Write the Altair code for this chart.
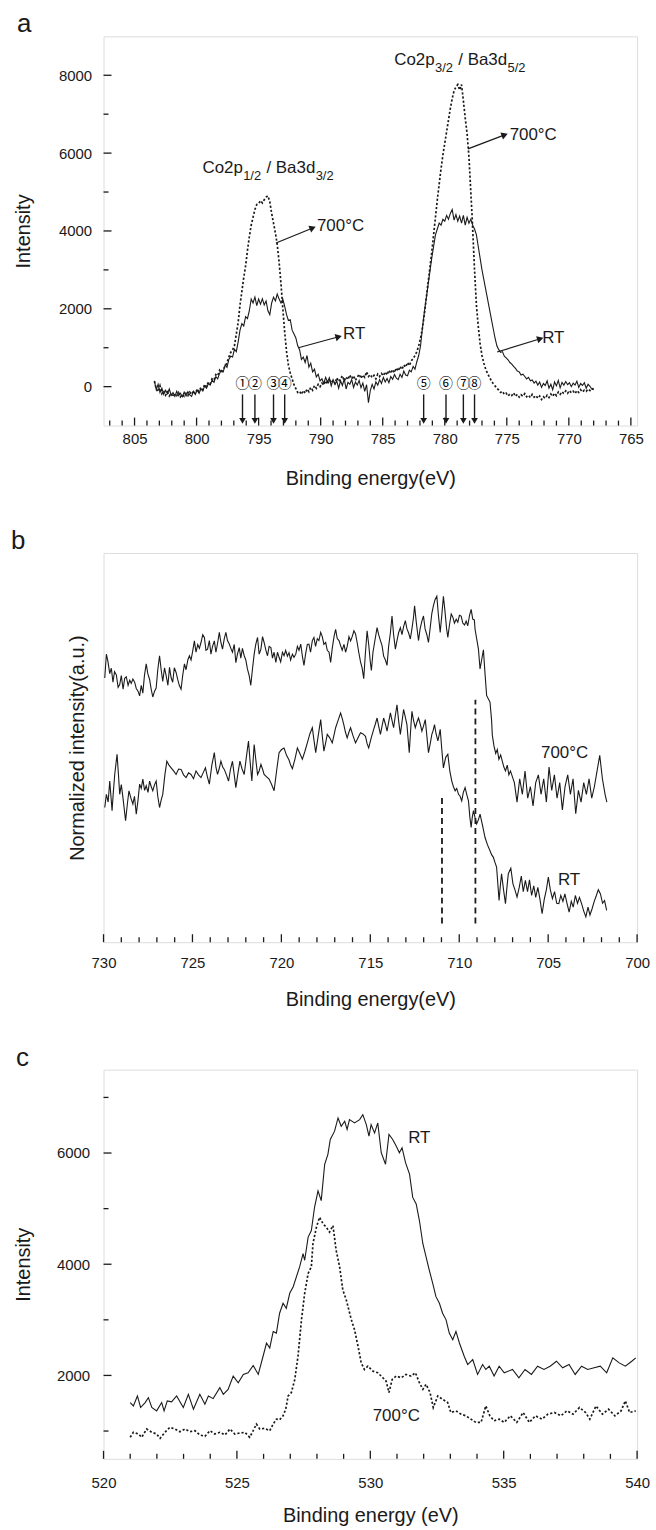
import math
import altair as alt
import pandas as pd

FONT = "Liberation Sans"
INK = "#1a1a1a"
W, H = 536, 391

# ---------------- panel a : Co2p / Ba3d ----------------
a_xdom = [807.5, 764.5]
a_ydom = [-1000, 9000]
a_x_major = [805, 800, 795, 790, 785, 780, 775, 770, 765]
a_x_minor = [v for v in range(765, 808) if v % 5]
a_y_major = [0, 2000, 4000, 6000, 8000]
a_y_minor = [1000, 3000, 5000, 7000]

a_rt = [(803.4,146),(803.25,-80),(803.1,60),(802.95,-150),(802.8,-40),(802.65,-200),(802.5,-90),(802.35,-180),
(802.2,-60),(802.05,-220),(801.9,-150),(801.75,-250),(801.6,-120),(801.45,-230),(801.3,-170),(801.15,-260),
(801.0,-140),(800.85,-240),(800.7,-130),(800.55,-210),(800.4,-250),(800.25,-120),(800.1,-200),(799.95,-90),
(799.8,-170),(799.65,-60),(799.5,-110),(799.35,20),(799.2,-40),(799.05,80),(798.9,40),(798.75,170),(798.6,110),
(798.45,260),(798.3,200),(798.15,340),(798.0,420),(797.85,380),(797.7,560),(797.55,500),(797.4,700),(797.25,780),
(797.1,760),(796.95,960),(796.8,900),(796.65,1150),(796.5,1450),(796.35,1620),(796.2,1560),(796.05,1800),
(795.9,1750),(795.75,1950),(795.6,2250),(795.45,2150),(795.3,2300),(795.15,2080),(795.0,2250),(794.85,2120),
(794.7,2260),(794.55,2100),(794.4,2200),(794.25,1950),(794.1,1850),(793.95,2150),(793.8,2300),(793.65,2200),
(793.5,2380),(793.35,2250),(793.2,2150),(793.05,2250),(792.9,2060),(792.75,1850),(792.6,1700),(792.45,1720),
(792.3,1450),(792.15,1350),(792.0,1250),(791.85,1050),(791.7,950),(791.55,700),(791.4,760),(791.25,620),
(791.1,800),(790.95,500),(790.8,600),(790.65,380),(790.5,450),(790.35,250),(790.2,320),(790.05,150),(789.9,200),
(789.75,80),(789.6,240),(789.45,120),(789.3,230),(789.15,20),(789.0,180),(788.85,60),(788.7,140),(788.55,-40),
(788.4,150),(788.25,30),(788.1,200),(787.95,-60),(787.8,110),(787.65,60),(787.5,180),(787.35,-20),(787.2,120),
(787.05,40),(786.9,160),(786.75,-30),(786.6,90),(786.45,-120),(786.3,50),(786.15,-410),(786.0,-100),(785.85,60),
(785.7,-60),(785.55,120),(785.4,40),(785.25,180),(785.1,80),(784.95,240),(784.8,120),(784.65,210),(784.5,100),
(784.35,260),(784.2,190),(784.05,310),(783.9,220),(783.75,180),(783.6,320),(783.45,240),(783.3,400),(783.15,300),
(783.0,280),(782.85,420),(782.7,380),(782.55,520),(782.4,450),(782.25,640),(782.1,800),(781.95,1050),(781.8,1500),
(781.65,1900),(781.5,2250),(781.35,2600),(781.2,2950),(781.05,3300),(780.9,3600),(780.75,3900),(780.6,4050),
(780.45,4200),(780.3,4150),(780.15,4300),(780.0,4250),(779.85,4400),(779.7,4300),(779.55,4450),(779.4,4550),
(779.25,4280),(779.1,4420),(778.95,4250),(778.8,4380),(778.65,4200),(778.5,4400),(778.35,4150),(778.2,4350),
(778.05,4200),(777.9,4300),(777.75,4150),(777.6,4050),(777.45,3900),(777.3,3600),(777.15,3300),(777.0,3000),
(776.85,2750),(776.7,2500),(776.55,2250),(776.4,2000),(776.25,1750),(776.1,1500),(775.95,1250),(775.8,1050),
(775.65,950),(775.5,880),(775.35,900),(775.2,780),(775.05,740),(774.9,690),(774.75,620),(774.6,580),(774.45,520),
(774.3,470),(774.15,400),(774.0,380),(773.85,300),(773.7,320),(773.55,260),(773.4,200),(773.25,240),(773.1,150),
(772.95,170),(772.8,90),(772.65,140),(772.5,40),(772.35,120),(772.2,-20),(772.05,80),(771.9,30),(771.75,150),
(771.6,-40),(771.45,60),(771.3,-80),(771.15,120),(771.0,20),(770.85,160),(770.7,-30),(770.55,110),(770.4,40),
(770.25,130),(770.1,50),(769.95,100),(769.8,0),(769.65,90),(769.5,40),(769.35,140),(769.2,-20),(769.05,80),
(768.9,30),(768.75,100),(768.6,-40),(768.45,60),(768.3,10),(768.15,-60),(768.0,-70)]

a_700 = [(803.4,140),(803.25,-60),(803.1,-130),(802.95,20),(802.8,-180),(802.65,-100),(802.5,-220),(802.35,-140),
(802.2,-240),(802.05,-170),(801.9,-260),(801.75,-190),(801.6,-230),(801.45,-150),(801.3,-260),(801.15,-200),
(801.0,-250),(800.85,-170),(800.7,-230),(800.55,-140),(800.4,-200),(800.25,-110),(800.1,-180),(799.95,-60),
(799.8,-130),(799.65,-20),(799.5,-80),(799.35,60),(799.2,0),(799.05,120),(798.9,80),(798.75,200),(798.6,170),
(798.45,310),(798.3,280),(798.15,420),(798.0,360),(797.85,450),(797.7,520),(797.55,620),(797.4,760),(797.25,880),
(797.1,940),(796.95,1050),(796.8,1350),(796.65,1650),(796.5,2100),(796.35,2450),(796.2,2800),(796.05,3100),
(795.9,3500),(795.75,3850),(795.6,4150),(795.45,4350),(795.3,4550),(795.15,4680),(795.0,4700),(794.85,4780),
(794.7,4720),(794.55,4800),(794.4,4870),(794.25,4900),(794.1,4750),(793.95,4450),(793.8,4200),(793.65,3950),
(793.5,3650),(793.35,3200),(793.2,2650),(793.05,2000),(792.9,1400),(792.75,900),(792.6,550),(792.45,350),
(792.3,200),(792.15,50),(792.0,-50),(791.85,-150),(791.7,-120),(791.55,-200),(791.4,-100),(791.25,-170),
(791.1,-60),(790.95,-130),(790.8,-20),(790.65,-90),(790.5,30),(790.35,-40),(790.2,60),(790.05,0),(789.9,90),
(789.75,40),(789.6,150),(789.45,60),(789.3,180),(789.15,100),(789.0,160),(788.85,80),(788.7,230),(788.55,130),
(788.4,200),(788.25,280),(788.1,150),(787.95,250),(787.8,180),(787.65,300),(787.5,200),(787.35,280),(787.2,160),
(787.05,240),(786.9,320),(786.75,210),(786.6,300),(786.45,240),(786.3,380),(786.15,260),(786.0,310),(785.85,230),
(785.7,290),(785.55,200),(785.4,320),(785.25,260),(785.1,340),(784.95,280),(784.8,380),(784.65,300),(784.5,420),
(784.35,340),(784.2,440),(784.05,360),(783.9,480),(783.75,400),(783.6,520),(783.45,440),(783.3,560),(783.15,500),
(783.0,620),(782.85,540),(782.7,660),(782.55,720),(782.4,800),(782.25,900),(782.1,1050),(781.95,1250),(781.8,1500),
(781.65,1850),(781.5,2250),(781.35,2650),(781.2,3050),(781.05,3450),(780.9,3900),(780.75,4350),(780.6,4800),
(780.45,5200),(780.3,5600),(780.15,5950),(780.0,6250),(779.85,6550),(779.7,6850),(779.55,7150),(779.4,7400),
(779.25,7600),(779.1,7700),(778.95,7760),(778.8,7620),(778.65,7760),(778.5,7350),(778.35,6900),(778.2,6500),
(778.05,5900),(777.9,5000),(777.8,4400),(777.7,3700),(777.6,3000),(777.45,2100),(777.3,1550),(777.15,1100),
(777.0,800),(776.85,600),(776.7,450),(776.55,330),(776.4,250),(776.25,150),(776.1,80),(775.95,20),(775.8,-40),
(775.65,-90),(775.5,-150),(775.35,-120),(775.2,-200),(775.05,-170),(774.9,-240),(774.75,-190),(774.6,-230),
(774.45,-160),(774.3,-250),(774.15,-200),(774.0,-270),(773.85,-210),(773.7,-250),(773.55,-180),(773.4,-260),
(773.25,-220),(773.1,-280),(772.95,-200),(772.8,-270),(772.65,-230),(772.5,-300),(772.35,-240),(772.2,-330),
(772.05,-260),(771.9,-300),(771.75,-220),(771.6,-280),(771.45,-190),(771.3,-250),(771.15,-170),(771.0,-230),
(770.85,-140),(770.7,-200),(770.55,-130),(770.4,-180),(770.25,-110),(770.1,-170),(769.95,-100),(769.8,-160),
(769.65,-120),(769.5,-180),(769.35,-100),(769.2,-150),(769.05,-80),(768.9,-140),(768.75,-90),(768.6,-120),
(768.45,-60),(768.3,-100),(768.15,-50),(768.0,-70)]

# peak labels with subscripts: (start eV, baseline intensity, pieces[(text, is_subscript)])
a_formulas = [
    (799.53, 5487, [("Co2p", False), ("1/2", True), (" ", False), ("/ Ba3d", False), ("3/2", True)]),
    (784.07, 8256, [("Co2p", False), ("3/2", True), (" ", False), ("/ Ba3d", False), ("5/2", True)]),
]
a_text = [("700°C", 790.3, 4000, 17), ("700°C", 774.77, 6341, 17), ("RT", 788.2, 1213, 17), ("RT", 772.15, 1128, 17)]
# label arrows: (eV start, int start, eV end, int end)
a_arrows = [(793.6, 3692, 790.64, 4077), (778.13, 6110, 775.17, 6469),
            (791.8, 1000, 788.55, 1282), (775.78, 889, 772.3, 1231)]
a_marks = ["①", "②", "③", "④", "⑤", "⑥", "⑦", "⑧"]
a_mark_ev = [796.3, 795.3, 793.8, 792.9, 781.7, 779.9, 778.5, 777.6]
a_mark_y = 60
a_mark_arrow = (-200, -880)

# ---------------- panel b ----------------
b_xdom = [730, 700]
b_ydom = [0, 100]
b_x_major = [730, 725, 720, 715, 710, 705, 700]
b_x_minor = [v for v in range(700, 731) if v % 5]

b_700 = [(729.93,67.9),(729.84,74.0),(729.75,72.1),(729.65,69.0),(729.56,70.4),(729.47,66.8),(729.38,69.5),(729.28,68.7),
(729.18,65.5),(729.09,66.2),(729.0,68.5),(728.9,65.0),(728.81,67.8),(728.72,68.2),(728.62,66.0),(728.53,67.3),
(728.44,66.5),(728.35,67.6),(728.25,66.8),(728.16,65.2),(728.06,64.5),(727.97,63.3),(727.88,66.0),(727.79,64.0),
(727.7,68.5),(727.6,71.5),(727.51,69.0),(727.41,67.5),(727.32,65.0),(727.23,63.0),(727.13,64.5),(727.04,65.3),
(726.95,70.0),(726.85,73.6),(726.76,70.0),(726.67,67.0),(726.57,70.5),(726.48,68.5),(726.38,66.0),(726.29,70.6),
(726.2,68.0),(726.11,66.8),(726.02,70.5),(725.92,69.3),(725.83,67.5),(725.74,66.0),(725.64,65.0),(725.55,68.5),
(725.45,71.5),(725.36,70.0),(725.26,72.5),(725.17,73.6),(725.08,72.5),(724.98,75.0),(724.89,77.4),(724.8,74.5),
(724.7,76.5),(724.61,75.5),(724.52,77.0),(724.42,79.0),(724.33,78.3),(724.24,75.0),(724.15,75.3),(724.05,77.5),
(723.96,74.0),(723.87,76.0),(723.77,77.4),(723.68,74.5),(723.58,77.0),(723.49,79.6),(723.4,77.0),(723.31,75.3),
(723.21,78.0),(723.12,79.6),(723.03,77.5),(722.93,76.6),(722.84,75.5),(722.75,74.5),(722.65,76.5),(722.56,71.8),
(722.47,74.0),(722.37,75.7),(722.28,73.0),(722.19,75.5),(722.09,73.6),(722.0,72.5),(721.91,70.2),(721.81,68.5),
(721.72,66.0),(721.63,70.0),(721.53,74.0),(721.44,76.5),(721.34,78.3),(721.25,74.0),(721.15,75.3),(721.06,78.5),
(720.97,77.0),(720.87,75.0),(720.78,73.6),(720.69,76.0),(720.59,75.7),(720.5,73.0),(720.41,74.5),(720.31,71.9),
(720.22,74.5),(720.13,73.2),(720.04,72.0),(719.94,74.5),(719.85,73.6),(719.76,75.0),(719.66,73.5),(719.57,74.4),
(719.48,72.5),(719.38,74.0),(719.29,73.2),(719.19,74.0),(719.1,76.0),(719.01,75.0),(718.91,76.6),(718.82,73.5),
(718.73,71.1),(718.64,74.0),(718.54,76.5),(718.45,76.6),(718.36,74.5),(718.26,77.5),(718.17,78.3),(718.08,76.0),
(717.98,78.0),(717.89,77.5),(717.79,79.6),(717.7,78.5),(717.61,76.5),(717.51,77.0),(717.42,75.0),(717.32,74.5),
(717.23,71.9),(717.14,75.5),(717.04,78.5),(716.95,80.4),(716.86,78.0),(716.76,77.5),(716.67,76.2),(716.58,75.0),
(716.48,76.5),(716.39,74.5),(716.3,76.0),(716.2,78.5),(716.11,77.4),(716.02,78.5),(715.92,80.0),(715.83,79.2),
(715.74,77.0),(715.65,74.5),(715.55,72.0),(715.46,70.5),(715.37,67.7),(715.28,74.0),(715.18,80.0),(715.09,76.5),
(715.0,72.0),(714.94,69.8),(714.85,74.5),(714.76,77.0),(714.62,80.8),(714.53,79.0),(714.43,77.5),(714.34,76.2),
(714.25,73.5),(714.15,72.5),(714.06,71.1),(713.97,76.0),(713.87,79.5),(713.78,83.8),(713.69,79.0),(713.59,75.3),
(713.5,77.5),(713.41,79.5),(713.31,80.8),(713.22,79.0),(713.13,81.0),(713.03,82.6),(712.94,80.5),(712.85,79.5),
(712.75,77.9),(712.66,80.5),(712.57,83.5),(712.51,86.4),(712.41,82.0),(712.29,77.5),(712.2,80.5),(712.1,82.5),
(712.01,83.8),(711.92,80.5),(711.82,79.0),(711.73,77.0),(711.64,80.5),(711.54,84.5),(711.45,86.5),(711.36,88.0),
(711.26,88.9),(711.17,84.0),(711.07,79.6),(710.98,84.0),(710.89,88.9),(710.8,85.0),(710.71,80.5),(710.64,78.3),
(710.55,81.5),(710.45,84.3),(710.36,83.5),(710.27,82.0),(710.17,83.0),(710.08,82.2),(709.99,84.0),(709.89,83.8),
(709.8,82.0),(709.7,81.5),(709.61,82.5),(709.52,81.3),(709.42,84.0),(709.33,85.5),(709.24,83.0),(709.15,82.8),
(709.11,80.4),(709.02,78.0),(708.92,75.3),(708.83,70.2),(708.74,72.5),(708.64,75.1),(708.55,69.0),(708.46,63.4),
(708.36,62.5),(708.27,61.7),(708.18,57.0),(708.14,53.2),(708.05,50.5),(707.95,48.5),(707.86,49.5),(707.77,47.0),
(707.67,48.1),(707.58,46.5),(707.49,45.0),(707.4,44.0),(707.3,45.5),(707.21,43.0),(707.12,44.0),(706.9,41),
(706.75,36),(706.6,42),(706.45,38),(706.3,44),(706.15,37),(706.0,40),(705.85,35),(705.7,41),(705.55,43),(705.4,38),
(705.25,42),(705.1,36),(704.95,45),(704.8,39),(704.65,43),(704.5,37),(704.35,41),(704.2,34),(704.05,40),(703.9,43),
(703.75,38),(703.6,42),(703.45,33),(703.3,39),(703.15,36),(703.0,41),(702.85,38),(702.7,42),(702.55,37),(702.4,40),
(702.25,44),(702.1,48),(701.95,42),(701.8,38),(701.7,36)]

b_rt = [(729.93,34.6),(729.84,38.0),(729.74,36.0),(729.65,41.4),(729.52,33.8),(729.45,38.5),(729.37,43.1),(729.24,48.3),
(729.16,43.0),(729.09,38.0),(729.0,40.5),(728.91,37.2),(728.83,34.0),(728.76,31.2),(728.66,35.5),(728.57,38.9),
(728.46,37.0),(728.35,35.5),(728.26,37.5),(728.16,32.9),(728.06,36.5),(727.97,40.6),(727.88,39.5),(727.79,41.9),
(727.69,39.0),(727.6,40.2),(727.5,38.5),(727.41,41.4),(727.32,40.0),(727.23,38.9),(727.13,40.5),(727.04,41.4),
(726.95,37.5),(726.85,34.6),(726.76,36.5),(726.67,38.0),(726.55,43.0),(726.44,46.5),(726.32,45.5),(726.2,44.8),
(726.06,44.0),(725.92,43.1),(725.78,44.5),(725.64,44.4),(725.5,43.0),(725.36,42.3),(725.22,43.5),(725.08,43.1),
(724.94,42.0),(724.8,44.0),(724.66,43.0),(724.52,42.3),(724.4,43.5),(724.27,44.8),(724.16,42.5),(724.05,40.6),
(723.91,45.5),(723.77,48.7),(723.68,45.0),(723.59,43.1),(723.5,44.5),(723.4,46.5),(723.3,45.0),(723.21,44.4),
(723.09,43.0),(722.97,41.4),(722.86,44.5),(722.75,46.5),(722.65,43.0),(722.56,39.7),(722.44,43.5),(722.33,46.5),
(722.21,44.5),(722.09,43.1),(721.97,47.5),(721.85,51.7),(721.76,46.5),(721.66,41.4),(721.6,46.0),(721.53,50.8),
(721.44,47.0),(721.34,43.1),(721.25,44.0),(721.15,45.7),(721.06,44.5),(720.97,43.1),(720.83,42.5),(720.69,41.9),
(720.55,40.5),(720.41,38.9),(720.27,44.0),(720.13,48.7),(719.99,49.5),(719.85,49.9),(719.71,48.0),(719.57,46.8),
(719.48,45.5),(719.38,44.6),(719.24,47.0),(719.1,49.9),(718.96,48.5),(718.82,47.0),(718.68,49.0),(718.54,51.2),
(718.4,53.5),(718.26,55.1),(718.17,52.0),(718.07,48.7),(717.93,53.0),(717.79,57.2),(717.7,53.0),(717.61,49.1),
(717.52,51.0),(717.42,53.4),(717.28,52.5),(717.14,51.2),(717.05,53.0),(716.95,55.1),(716.81,57.0),(716.67,58.9),
(716.58,57.5),(716.49,55.9),(716.4,54.0),(716.3,52.5),(716.2,54.0),(716.11,55.1),(715.97,53.0),(715.83,51.2),
(715.69,52.5),(715.55,53.8),(715.41,53.5),(715.27,52.9),(715.18,51.0),(715.09,49.9),(714.95,52.5),(714.81,54.7),
(714.72,56.0),(714.62,57.6),(714.53,55.5),(714.43,53.4),(714.34,55.5),(714.25,57.6),(714.15,56.0),(714.06,54.2),
(713.97,56.5),(713.87,58.9),(713.78,57.0),(713.69,55.1),(713.6,58.0),(713.5,61.0),(713.41,57.0),(713.31,53.4),
(713.22,56.5),(713.13,59.8),(713.04,58.0),(712.94,55.9),(712.87,52.0),(712.81,48.7),(712.74,54.0),(712.66,59.3),
(712.57,57.0),(712.47,55.1),(712.38,56.5),(712.29,57.6),(712.19,56.0),(712.1,54.2),(712.01,55.5),(711.91,57.2),
(711.82,53.0),(711.73,48.7),(711.63,51.0),(711.54,53.4),(711.46,54.5),(711.39,55.9),(711.3,53.5),(711.2,51.7),
(711.14,53.0),(711.07,54.7),(710.98,49.5),(710.89,44.8),(710.76,47.5),(710.64,48.3),(710.53,44.0),(710.42,41.4),
(710.33,40.0),(710.23,38.9),(710.14,39.5),(710.04,38.0),(709.95,37.5),(709.86,36.3),(709.77,38.5),(709.67,39.7),
(709.58,38.0),(709.48,36.3),(709.4,32.0),(709.33,29.5),(709.27,32.0),(709.2,33.8),(709.11,32.0),(709.02,30.4),
(708.92,31.5),(708.83,32.9),(708.69,30.0),(708.55,26.9),(708.41,25.0),(708.27,23.5),(708.18,22.5),(708.08,21.8),
(707.99,20.5),(707.9,19.3),(707.83,15.0),(707.76,10.7),(707.69,14.5),(707.62,17.6),(707.51,13.5),(707.4,9.9),
(707.32,14.0),(707.24,17.6),(707.1,19.0),(706.98,15.0),(706.87,13.5),(706.75,11.6),(706.63,14.0),(706.51,17.0),
(706.4,13.0),(706.28,15.9),(706.16,13.0),(706.05,16.0),(705.93,12.0),(705.81,14.5),(705.7,11.5),(705.58,14.1),
(705.46,11.0),(705.34,7.3),(705.22,11.0),(705.1,13.5),(704.99,16.7),(704.88,13.5),(704.76,11.2),(704.64,13.0),
(704.52,10.0),(704.4,9.9),(704.29,12.0),(704.17,10.5),(704.06,12.4),(703.94,10.0),(703.82,7.7),(703.7,10.5),
(703.59,9.0),(703.47,12.0),(703.35,10.0),(703.24,11.5),(703.12,9.9),(703.0,8.0),(702.88,6.5),(702.76,9.0),
(702.65,7.0),(702.53,8.6),(702.41,10.5),(702.29,12.0),(702.18,13.5),(702.06,12.4),(701.94,10.0),(701.83,10.7),
(701.71,8.2)]

b_text = [("700°C", 705.4, 47.4, 17), ("RT", 704.45, 14.6, 17)]
b_guides = [(710.97, 4.8, 37.2), (709.09, 4.8, 62.3)]

# ---------------- panel c : O1s ----------------
c_xdom = [520, 540]
c_ydom = [500, 7500]
c_x_major = [520, 525, 530, 535, 540]
c_x_minor = [v for v in range(520, 541) if v % 5]
c_y_major = [2000, 4000, 6000]
c_y_minor = [1000, 3000, 5000, 7000]

c_rt = [(521.0,1512),(521.12,1452),(521.27,1631),(521.39,1423),(521.56,1512),(521.68,1601),(521.81,1423),(521.99,1363),
(522.18,1512),(522.27,1363),(522.39,1542),(522.55,1524),(522.74,1631),(522.99,1423),(523.18,1661),(523.37,1393),
(523.61,1661),(523.8,1482),(523.93,1631),(524.11,1583),(524.36,1780),(524.49,1661),(524.67,1750),(524.86,1988),
(525.05,1869),(525.24,2018),(525.42,2048),(525.61,2179),(525.8,2018),(525.98,2345),(526.11,2583),(526.23,2494),
(526.36,2791),(526.48,2762),(526.6,3119),(526.73,3298),(526.85,3208),(526.98,3477),(527.11,3595),(527.35,3952),
(527.48,4190),(527.54,4071),(527.67,4488),(527.79,4607),(527.91,5024),(528.04,5321),(528.16,5143),(528.29,5798),
(528.41,5976),(528.5,6244),(528.66,6393),(528.79,6631),(528.91,6482),(529.04,6571),(529.13,6423),(529.22,6601),
(529.41,6541),(529.6,6601),(529.72,6690),(529.85,6512),(529.95,6304),(530.03,6512),(530.16,6363),(530.28,6541),
(530.41,6006),(530.57,5798),(530.7,6334),(530.84,6244),(530.97,6125),(531.09,6006),(531.19,6095),(531.32,5827),
(531.47,5620),(531.59,5202),(531.72,5084),(531.84,4786),(531.97,4369),(532.09,4131),(532.21,3893),(532.34,3655),
(532.46,3417),(532.59,3298),(532.71,3119),(532.84,3000),(532.96,2762),(533.09,2643),(533.21,2791),(533.34,2583),
(533.52,2345),(533.65,2196),(533.84,2286),(534.02,2018),(534.21,2196),(534.33,2107),(534.46,2166),(534.64,1988),
(534.83,2166),(535.02,2048),(535.33,2107),(535.57,1958),(535.8,2107),(536.04,2018),(536.27,2166),(536.51,2107),
(536.74,2166),(536.98,2256),(537.21,2137),(537.45,2196),(537.68,2018),(537.92,2166),(538.15,2107),(538.39,2137),
(538.62,2166),(538.86,2048),(539.09,2316),(539.33,2226),(539.56,2166),(539.8,2256),(539.95,2316)]

c_700 = [(521.0,887),(521.12,977),(521.31,947),(521.43,887),(521.62,1036),(521.81,977),(521.99,947),(522.12,869),
(522.3,977),(522.49,1066),(522.68,1036),(522.86,988),(523.05,1036),(523.24,988),(523.43,1006),(523.61,929),
(523.8,905),(523.99,1006),(524.17,947),(524.36,977),(524.55,929),(524.74,1036),(524.92,947),(525.11,964),
(525.3,977),(525.48,887),(525.61,1006),(525.73,1125),(525.86,1036),(526.04,1048),(526.23,1006),(526.36,1125),
(526.48,1214),(526.6,1202),(526.73,1274),(526.83,1393),(526.92,1631),(527.04,1691),(527.17,1929),(527.29,2345),
(527.42,3000),(527.54,3477),(527.67,3834),(527.79,3952),(527.85,4369),(527.98,4667),(528.1,4845),(528.23,4726),
(528.35,4667),(528.47,4577),(528.6,4696),(528.72,4250),(528.85,3952),(528.97,3536),(529.1,3357),(529.29,3000),
(529.41,2821),(529.54,2524),(529.66,2226),(529.78,2107),(529.91,2166),(530.1,2077),(530.28,2048),(530.47,1958),
(530.59,1899),(530.7,1691),(530.82,1929),(530.97,1988),(531.16,1958),(531.34,2018),(531.53,1988),(531.69,2048),
(531.84,1869),(531.97,1750),(532.09,1839),(532.24,1691),(532.36,1423),(532.53,1631),(532.71,1571),(532.9,1512),
(533.02,1333),(533.21,1363),(533.4,1304),(533.58,1274),(533.77,1214),(533.96,1155),(534.15,1155),(534.33,1452),
(534.48,1274),(534.64,1185),(534.83,1214),(535.02,1155),(535.25,1274),(535.49,1155),(535.73,1333),(535.96,1155),
(536.19,1274),(536.43,1214),(536.66,1304),(536.9,1333),(537.14,1274),(537.37,1363),(537.6,1304),(537.84,1423),
(538.07,1333),(538.23,1214),(538.46,1452),(538.7,1304),(538.93,1393),(539.17,1274),(539.4,1363),(539.56,1542),
(539.72,1333),(539.95,1363)]

c_text = [("RT", 531.42, 6184, 17), ("700°C", 530.09, 1184, 17)]

panel_letters = [("a", -87), ("b", -93), ("c", -88)]

# Arial / Liberation Sans advance widths (em) for laying out the subscript labels
ADV = {"C": .722, "o": .556, "2": .556, "p": .556, "1": .556, "/": .278, "3": .556, "5": .556,
       " ": .278, "B": .667, "a": .556, "d": .556}
MAIN_FS, SUB_FS, SUB_DROP = 17, 13, 7


# ---------------- helpers ----------------
def sc(dom):
    return alt.Scale(domain=dom, nice=False, zero=False)


def xaxis(values, title, lpad, tpad):
    return alt.Axis(values=values, title=title, format="d", ticks=False, tickSize=0, domain=False, grid=False,
                    labelFont=FONT, labelFontSize=15, labelColor=INK, labelPadding=lpad, labelFlush=False,
                    titleFont=FONT, titleFontSize=20, titleFontWeight="normal", titleColor=INK, titlePadding=tpad)


def yaxis(values, title, lpad, tpad, labels=True):
    return alt.Axis(values=values, title=title, format="d", ticks=False, tickSize=0, domain=False, grid=False,
                    labels=labels, labelFont=FONT, labelFontSize=15, labelColor=INK, labelPadding=lpad,
                    titleFont=FONT, titleFontSize=20, titleFontWeight="normal", titleColor=INK, titlePadding=tpad)


class Panel:
    def __init__(self, xdom, ydom, xax, yax):
        self.xs, self.ys = sc(xdom), sc(ydom)
        self.xax, self.yax = xax, yax

    def X(self, f):
        return alt.X(f, scale=self.xs, axis=self.xax)

    def Y(self, f):
        return alt.Y(f, scale=self.ys, axis=self.yax)

    def curve(self, pts, dotted=False):
        df = pd.DataFrame(pts, columns=["x", "y"])
        if dotted:
            m = alt.Chart(df).mark_line(color=INK, strokeWidth=1.7, strokeDash=[2.2, 2.0])
        else:
            m = alt.Chart(df).mark_line(color=INK, strokeWidth=1.1)
        return m.encode(x=self.X("x:Q"), y=self.Y("y:Q"))

    def ticks(self, xmaj, xmin, ymaj, ymin):
        layers = []
        for vals, ln in ((xmaj, 8), (xmin, 5)):
            if vals:
                d = pd.DataFrame({"x": vals})
                layers.append(alt.Chart(d).mark_rule(color=INK, strokeWidth=1.3).encode(
                    x=self.X("x:Q"), y=alt.value(H), y2=alt.value(H - ln)))
        for vals, ln in ((ymaj, 8), (ymin, 5)):
            if vals:
                d = pd.DataFrame({"y": vals})
                layers.append(alt.Chart(d).mark_rule(color=INK, strokeWidth=1.3).encode(
                    y=self.Y("y:Q"), x=alt.value(0), x2=alt.value(ln)))
        return layers

    def texts(self, items):
        d = pd.DataFrame(items, columns=["t", "x", "y", "fs"])
        return alt.Chart(d).mark_text(align="left", baseline="alphabetic", font=FONT, color=INK).encode(
            x=self.X("x:Q"), y=self.Y("y:Q"), text="t:N", size=alt.Size("fs:Q", scale=None, legend=None))


def letter(i):
    t, dx = panel_letters[i]
    d = pd.DataFrame({"t": [t]})
    return alt.Chart(d).mark_text(align="left", baseline="alphabetic", font=FONT, fontSize=26, color=INK).encode(
        x=alt.value(dx), y=alt.value(-4), text="t:N")


# ---------------- panel a ----------------
A = Panel(a_xdom, a_ydom, xaxis(a_x_major, "Binding energy(eV)", 6, 22), yaxis(a_y_major, "Intensity", 12, 25))
kx = W / (a_xdom[0] - a_xdom[1])      # px per eV (axis reversed)
ky = H / (a_ydom[1] - a_ydom[0])      # px per count

# lay the subscript labels out piece by piece
formula_items = []
for x0, y0, pieces in a_formulas:
    off = 0.0
    for txt, sub in pieces:
        fs = SUB_FS if sub else MAIN_FS
        if txt.strip():
            formula_items.append((txt, x0 - off / kx, y0 - (SUB_DROP / ky if sub else 0), fs))
        off += sum(ADV[ch] for ch in txt) * fs + 0.3

arr = []
for x1, y1, x2, y2 in a_arrows:
    ang = math.degrees(math.atan2(-(y2 - y1) * ky, (x1 - x2) * kx)) % 360
    arr.append({"x": x1, "y": y1, "x2": x2, "y2": y2, "ang": ang})
arr_df = pd.DataFrame(arr)
arrow_lines = alt.Chart(arr_df).mark_rule(color=INK, strokeWidth=1.2).encode(
    x=A.X("x:Q"), y=A.Y("y:Q"), x2="x2:Q", y2="y2:Q")
arrow_heads = alt.Chart(arr_df).mark_point(shape="triangle-right", filled=True, size=55, color=INK, opacity=1).encode(
    x=A.X("x2:Q"), y=A.Y("y2:Q"), angle=alt.Angle("ang:Q", scale=None))

marks_df = pd.DataFrame({"t": a_marks, "x": a_mark_ev, "y": [a_mark_y] * len(a_marks),
                         "y1": [a_mark_arrow[0]] * len(a_marks), "y2": [a_mark_arrow[1]] * len(a_marks)})
mark_text = alt.Chart(marks_df).mark_text(font="Noto Sans CJK JP", fontSize=14, color="#000000",
                                          baseline="middle").encode(
    x=A.X("x:Q"), y=A.Y("y:Q"), text="t:N")
mark_lines = alt.Chart(marks_df).mark_rule(color=INK, strokeWidth=1.4).encode(
    x=A.X("x:Q"), y=A.Y("y1:Q"), y2="y2:Q")
mark_heads = alt.Chart(marks_df).mark_point(shape="triangle-down", filled=True, size=45, color=INK, opacity=1).encode(
    x=A.X("x:Q"), y=A.Y("y2:Q"))

pa = alt.layer(
    A.curve(a_rt), A.curve(a_700, True),
    *A.ticks(a_x_major, a_x_minor, a_y_major, a_y_minor),
    A.texts(formula_items + a_text), arrow_lines, arrow_heads, mark_text, mark_lines, mark_heads, letter(0),
).properties(width=W, height=H)

# ---------------- panel b ----------------
B = Panel(b_xdom, b_ydom, xaxis(b_x_major, "Binding energy(eV)", 13, 20),
          yaxis([], "Normalized intensity(a.u.)", 0, 16, labels=False))
guide_df = pd.DataFrame(b_guides, columns=["x", "y", "y2"])
guides = alt.Chart(guide_df).mark_rule(color=INK, strokeWidth=1.8, strokeDash=[6, 4]).encode(
    x=B.X("x:Q"), y=B.Y("y:Q"), y2="y2:Q")
pb = alt.layer(
    B.curve(b_700), B.curve(b_rt),
    *B.ticks(b_x_major, b_x_minor, [], []),
    guides, B.texts(b_text), letter(1),
).properties(width=W, height=H)

# ---------------- panel c ----------------
C = Panel(c_xdom, c_ydom, xaxis(c_x_major, "Binding energy (eV)", 17, 15), yaxis(c_y_major, "Intensity", 14, 23))
pc = alt.layer(
    C.curve(c_rt), C.curve(c_700, True),
    *C.ticks(c_x_major, c_x_minor, c_y_major, c_y_minor),
    C.texts(c_text), letter(2),
).properties(width=W, height=H)

chart = alt.vconcat(pa, pb, pc, spacing=128, bounds="flush").properties(
    padding={"left": 10, "top": 7, "right": 5, "bottom": 5}
).configure_view(stroke=INK, strokeWidth=2).configure(background="white")

chart.save("out.html", embed_options={"renderer": "svg", "actions": False})
